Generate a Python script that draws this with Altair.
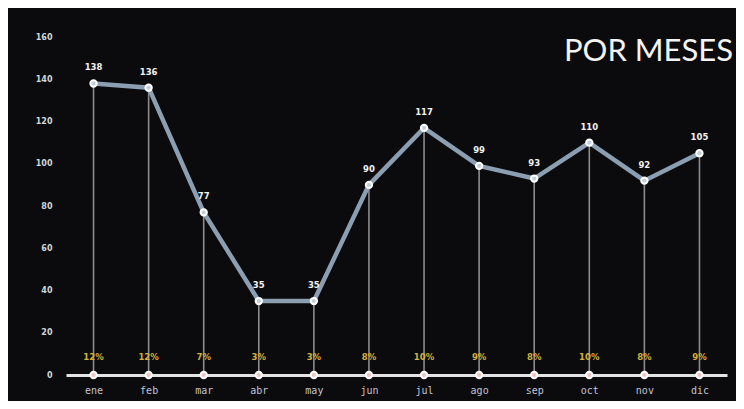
import altair as alt
import pandas as pd

months = ["ene", "feb", "mar", "abr", "may", "jun", "jul", "ago", "sep", "oct", "nov", "dic"]
values = [138, 136, 77, 35, 35, 90, 117, 99, 93, 110, 92, 105]
pct_labels = ["12%", "12%", "7%", "3%", "3%", "8%", "10%", "9%", "8%", "10%", "8%", "9%"]
y_ticks = [0, 20, 40, 60, 80, 100, 120, 140, 160]

df = pd.DataFrame({"mes": months, "valor": values, "pct": pct_labels, "cero": [0] * len(months)})

W, H = 661, 338

x = alt.X("mes:N", sort=months, scale=alt.Scale(type="point", padding=0.5),
          axis=alt.Axis(title=None, labelAngle=0, labelColor="#c4c4d4", labelFontSize=10,
                        labelFont="DejaVu Sans Mono", labelPadding=10, ticks=False,
                        domainColor="#e4e4e4", domainWidth=3, grid=False))
y = alt.Y("valor:Q", scale=alt.Scale(domain=[0, 160], nice=False),
          axis=alt.Axis(title=None, values=y_ticks, labelColor="#d6d6d6", labelFontSize=8,
                        labelFontWeight="bold", labelFont="DejaVu Sans", labelPadding=14,
                        ticks=False, domain=False, grid=False))

base = alt.Chart(df)

drops = base.mark_rule(color="#a3a3a3", strokeWidth=1.6, opacity=0.85).encode(
    x=x, y=y, y2=alt.Y2("cero:Q"))
line = base.mark_line(color="#8c9fb2", strokeWidth=4.5).encode(x=x, y=y)
pts = base.mark_point(filled=True, fill="#c2d0de", stroke="#ffffff", strokeWidth=2,
                      size=40, opacity=1).encode(x=x, y=y)
vlabels = base.mark_text(dy=-16, color="#f2f2f2", fontSize=8.5, fontWeight="bold",
                         font="DejaVu Sans").encode(x=x, y=y, text="valor:Q")
bpts = base.mark_point(filled=True, fill="#ecc9c4", stroke="#ffffff", strokeWidth=2,
                       size=40, opacity=1).encode(x=x, y=alt.Y("cero:Q"))
plabels = base.mark_text(dy=-18, color="#d4b13c", fontSize=8.5, fontWeight="bold",
                         font="DejaVu Sans").encode(x=x, y=alt.Y("cero:Q"), text="pct:N")

chart = alt.layer(drops, line, pts, vlabels, bpts, plabels).properties(
    width=W, height=H,
    title=alt.TitleParams("POR MESES", anchor="end", orient="top", frame="group",
                          fontSize=31, font="Lato", fontWeight="normal", color="#f4f4f4",
                          dx=6, dy=39, baseline="top"),
    autosize=alt.AutoSizeParams(type="none"),
    padding={"left": 58, "top": 29, "right": 9, "bottom": 26},
    background="#0b0b0d",
).configure_view(stroke=None)

chart.save("out.html", embed_options={"renderer": "svg", "actions": False})
